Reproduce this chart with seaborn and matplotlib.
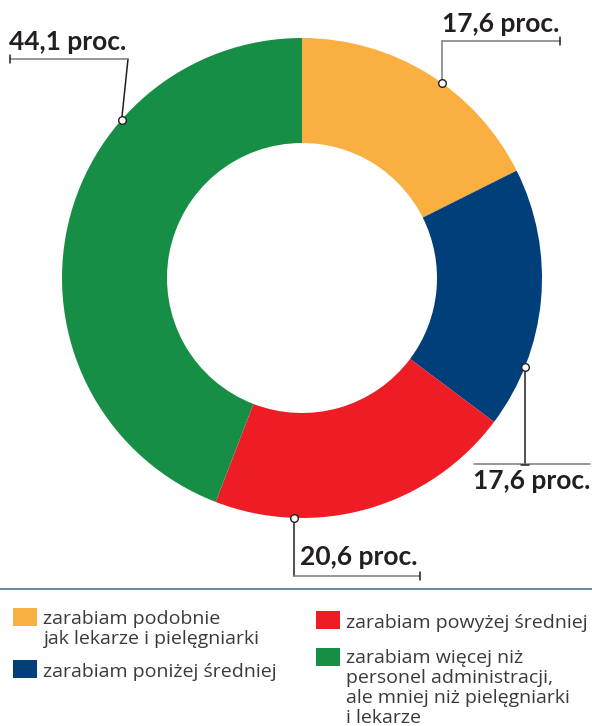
import numpy as np
import matplotlib
matplotlib.use("Agg")
import matplotlib.pyplot as plt
from matplotlib.patches import Rectangle
import seaborn as sns

# data
categories = ["zarabiam podobnie\njak lekarze i pielęgniarki",
              "zarabiam poniżej średniej",
              "zarabiam powyżej średniej",
              "zarabiam więcej niż\npersonel administracji,\nale mniej niż pielęgniarki\ni lekarze"]
shares = [17.6, 17.6, 20.6, 44.1]
colors = ["#F9B040", "#013F7B", "#EE1D25", "#178E45"]

sns.set_style("white")
plt.rcParams['font.family'] = ['Lato', 'DejaVu Sans']

W, H = 592, 726
fig = plt.figure(figsize=(W / 100, H / 100), dpi=100)
ax = fig.add_axes([0, 0, 1, 1])

cx, cy, r_out, ring = 302, H - 278, 240, 105
ax.pie(shares, colors=sns.color_palette(colors), startangle=90, counterclock=False,
       radius=r_out, center=(cx, cy), wedgeprops=dict(width=ring, edgecolor='none'))
ax.set_xlim(0, W)
ax.set_ylim(0, H)
ax.set_aspect('equal')
ax.axis('off')


def Y(py):
    return H - py


def anchor(deg):
    # deg measured clockwise from 12 o'clock
    a = np.deg2rad(90 - deg)
    return cx + r_out * np.cos(a), cy + r_out * np.sin(a)


lab_txt = [f"{v:.1f}".replace('.', ',') + " proc." for v in shares]
dark, grey = "#231f20", "#7a7a7a"
txt_kw = dict(fontsize=19, fontweight='bold', color=dark)

# orange
x0, y0 = anchor(35.7)
ax.plot([x0, x0], [y0, Y(41)], color=grey, lw=1.1)
ax.plot([x0, 560], [Y(41), Y(41)], color=grey, lw=1.1)
ax.plot([560, 560], [Y(37), Y(45)], color=dark, lw=1.1)
ax.text(559, Y(32), lab_txt[0], ha='right', va='baseline', **txt_kw)

# blue
x1, y1 = anchor(111.8)
ax.plot([x1, x1], [y1, Y(464)], color=dark, lw=1.1)
ax.plot([474, 590], [Y(464), Y(464)], color=grey, lw=1.1)
ax.plot([x1 - 4, x1 + 4], [Y(465), Y(465)], color=dark, lw=1.1)
ax.text(473, Y(489), lab_txt[1], ha='left', va='baseline', **txt_kw)

# red
x2, y2 = anchor(182)
ax.plot([x2, x2], [y2, Y(576)], color=dark, lw=1.1)
ax.plot([x2, 420], [Y(576), Y(576)], color=grey, lw=1.1)
ax.plot([420, 420], [Y(572), Y(580)], color=dark, lw=1.1)
ax.text(418, Y(565), lab_txt[2], ha='right', va='baseline', **txt_kw)

# green
x3, y3 = anchor(311.3)
ax.plot([x3, 128], [y3, Y(59)], color=dark, lw=1.1)
ax.plot([128, 10], [Y(59), Y(59)], color=grey, lw=1.1)
ax.plot([10, 10], [Y(55), Y(63)], color=dark, lw=1.1)
ax.text(9, Y(50), lab_txt[3], ha='left', va='baseline', **txt_kw)

for (x, y) in [(x0, y0), (x1, y1), (x2, y2), (x3, y3)]:
    ax.plot(x, y, 'o', ms=5.5, mfc='white', mec=dark, mew=1.0, zorder=5)

# separator
ax.plot([0, W], [Y(589), Y(589)], color="#4d7397", lw=1.2)

# legend: square top-left and first text baseline, 20 px between lines
leg_sq = [(13, 608), (13, 660), (316, 611), (316, 648)]
leg_base = [624, 677, 628, 663]
for (lx, ly), yb, c, lab in zip(leg_sq, leg_base, colors, categories):
    ax.add_patch(Rectangle((lx, Y(ly + 18)), 24, 18, color=c, lw=0))
    for i, line in enumerate(lab.split("\n")):
        ax.text(lx + 30, Y(yb + 20 * i), line, ha='left', va='baseline', fontsize=14,
                color="#3a3a3a", family=['Open Sans', 'DejaVu Sans'])

fig.savefig("out.png", dpi=100)
